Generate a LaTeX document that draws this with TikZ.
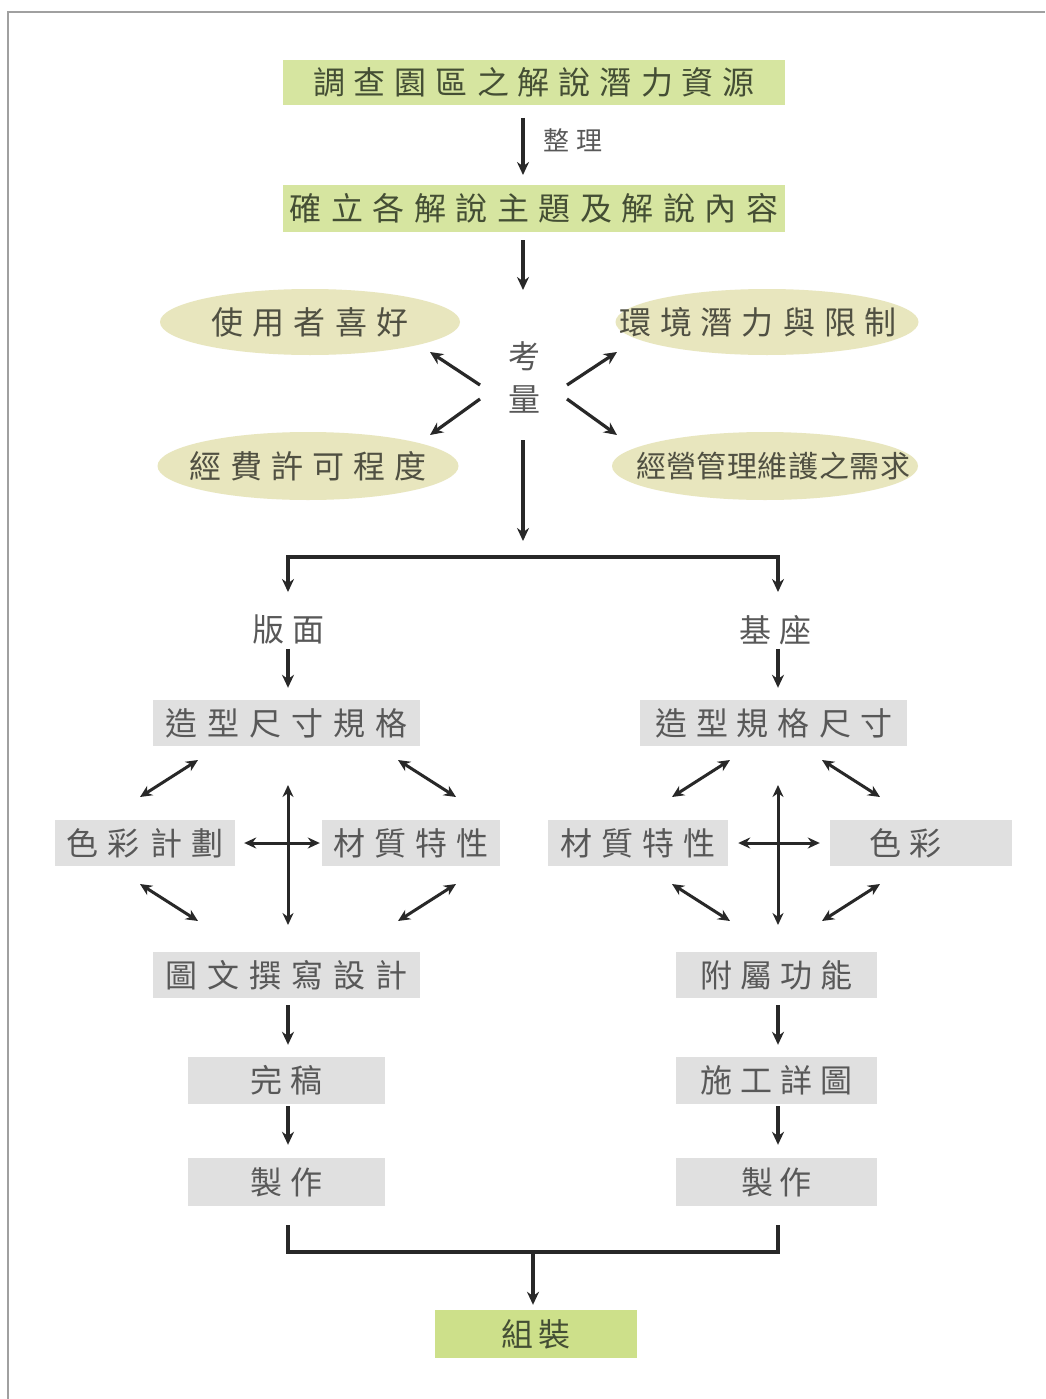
\documentclass[tikz,border=0pt]{standalone}
\usepackage{fontspec}
\usetikzlibrary{shapes.geometric,arrows.meta,calc}
\newfontfamily\cjk{Noto Sans CJK TC}

% spaced CJK text: \spaced{gap}{characters}
\makeatletter
\def\spaced#1#2{\def\sp@gap{#1}\sp@first#2\relax}
\def\sp@first#1{\ifx#1\relax\else#1\expandafter\sp@next\fi}
\def\sp@next#1{\ifx#1\relax\else\kern\sp@gap\relax#1\expandafter\sp@next\fi}
\makeatother

\definecolor{greenbox}{RGB}{214,229,160}
\definecolor{greenend}{RGB}{205,224,138}
\definecolor{beige}{RGB}{232,230,190}
\definecolor{graybox}{RGB}{224,224,224}
\definecolor{greentext}{RGB}{68,78,52}
\definecolor{beigetext}{RGB}{80,80,66}
\definecolor{graytext}{RGB}{88,88,88}
\definecolor{arrowcol}{RGB}{40,40,40}
\definecolor{framecol}{RGB}{160,160,160}

\tikzset{
  cjkfont/.style={font=\cjk\fontsize{#1}{#1}\selectfont},
  gbox/.style={rectangle,fill=greenbox,inner sep=0pt,text=greentext,cjkfont=32},
  ebox/.style={ellipse,fill=beige,inner sep=0pt},
  etext/.style={inner sep=0pt,text=beigetext,cjkfont=32},
  sbox/.style={rectangle,fill=graybox,inner sep=0pt,text=graytext,cjkfont=32},
  plain/.style={inner sep=0pt,text=graytext,cjkfont=32},
  arr/.style={draw=arrowcol,line width=3.2pt,-{Stealth[length=13pt,width=12pt]}},
  darr/.style={draw=arrowcol,line width=3pt,{Stealth[length=12pt,width=11pt]}-{Stealth[length=12pt,width=11pt]}},
  ln/.style={draw=arrowcol,line width=3.2pt},
}

\begin{document}
\begin{tikzpicture}[x=1pt,y=-1pt]
\useasboundingbox (0,0) rectangle (1045,1399);
\fill[white] (0,0) rectangle (1045,1399);
% frame
\draw[framecol,line width=2.6pt] (8,1399) -- (8,12) -- (1045,12);

% top chain
\node[gbox,minimum width=502,minimum height=45] (top1) at (534,82.5) {\spaced{9pt}{調查園區之解說潛力資源}};
\node[gbox,minimum width=502,minimum height=47] (top2) at (534,208.5) {\spaced{9.5pt}{確立各解說主題及解說內容}};
\node[plain,align=center,font=\cjk\fontsize{32}{43}\selectfont] (kao) at (524,377) {考\\量};

\coordinate (axisA) at (523,118);
\coordinate (axisB) at (523,175);
\coordinate (axisC) at (523,240);
\coordinate (axisD) at (523,290);
\coordinate (axisE) at (523,440);
\coordinate (axisF) at (523,541);

\draw[arr] (axisA) -- (axisB);
\node[plain,cjkfont=26] (zl) at (573,140) {\spaced{8pt}{整理}};
\draw[arr] (axisC) -- (axisD);
\draw[arr] (axisE) -- (axisF);

% considerations
\node[ebox,minimum width=300,minimum height=66] (e1) at (310,322) {};
\node[ebox,minimum width=303,minimum height=66] (e2) at (767,322) {};
\node[ebox,minimum width=301,minimum height=68] (e3) at (308,466) {};
\node[ebox,minimum width=306,minimum height=68] (e4) at (765,466) {};
\node[etext] (e1t) at (e1) {\spaced{9.5pt}{使用者喜好}};
\node[etext] (e2t) at ($(e2)+(-9,0)$) {\spaced{9pt}{環境潛力與限制}};
\node[etext] (e3t) at (e3) {\spaced{9pt}{經費許可程度}};
\node[etext,cjkfont=30] (e4t) at ($(e4)+(8,0)$) {\spaced{0.5pt}{經營管理維護之需求}};

\draw[arr] ($(kao)+(-44,8)$) -- ($(kao)+(-94,-25)$);
\draw[arr] ($(kao)+(-44,22)$) -- ($(kao)+(-94,58)$);
\draw[arr] ($(kao)+(43,8)$) -- ($(kao)+(93,-25)$);
\draw[arr] ($(kao)+(43,22)$) -- ($(kao)+(93,58)$);

% split into two branches
\coordinate (bl) at (288,557);
\coordinate (br) at (778,557);
\node[plain] (ban) at (288,630) {\spaced{8pt}{版面}};
\node[plain] (ji) at (775,630) {\spaced{8pt}{基座}};
\draw[ln,line cap=rect] (bl) -- (br);
\draw[arr,shorten >=23pt] (bl) -- (ban);
\draw[arr,shorten >=23pt] (br) -- (br |- ji.north);

% left branch
\node[sbox,minimum width=267,minimum height=46] (L1) at (286.5,723) {\spaced{10pt}{造型尺寸規格}};
\node[sbox,minimum width=180,minimum height=46] (L2) at (145,843) {\spaced{10pt}{色彩計劃}};
\node[sbox,minimum width=178,minimum height=46] (L3) at (411,843) {\spaced{9pt}{材質特性}};
\node[sbox,minimum width=267,minimum height=46] (L4) at (286.5,975) {\spaced{10pt}{圖文撰寫設計}};
\node[sbox,minimum width=197,minimum height=47] (L5) at (286.5,1080.5) {\spaced{8pt}{完稿}};
\node[sbox,minimum width=197,minimum height=48] (L6) at (286.5,1182) {\spaced{8pt}{製作}};

\draw[arr,shorten <=4pt,shorten >=12pt] (ban.south) -- (ban.south |- L1.north);

\coordinate (cL) at (288,843);
\draw[darr] ($(cL)+(-148,-46)$) -- ($(cL)+(-90,-83)$);
\draw[darr] ($(cL)+(110,-83)$) -- ($(cL)+(168,-46)$);
\draw[darr] ($(cL)+(-148,41)$) -- ($(cL)+(-90,78)$);
\draw[darr] ($(cL)+(110,78)$) -- ($(cL)+(168,41)$);
\draw[darr] ($(cL)+(0,-58)$) -- ($(cL)+(0,82)$);
\draw[darr,shorten <=9pt,shorten >=2pt] (L2.east) -- (L3.west);

\draw[arr,shorten <=7pt,shorten >=12pt] (cL |- L4.south) -- (cL |- L5.north);
\draw[arr,shorten <=2pt,shorten >=13pt] (cL |- L5.south) -- (cL |- L6.north);

% right branch
\node[sbox,minimum width=267,minimum height=46] (R1) at (773.5,723) {\spaced{9pt}{造型規格尺寸}};
\node[sbox,minimum width=180,minimum height=46] (R2) at (638,843) {\spaced{9pt}{材質特性}};
\node[sbox,minimum width=182,minimum height=46] (R3) at (921,843) {\spaced{8pt}{色彩}\hspace*{32pt}};
\node[sbox,minimum width=201,minimum height=46] (R4) at (776.5,975) {\spaced{8pt}{附屬功能}};
\node[sbox,minimum width=201,minimum height=47] (R5) at (776.5,1080.5) {\spaced{8pt}{施工詳圖}};
\node[sbox,minimum width=201,minimum height=48] (R6) at (776.5,1182) {\spaced{6pt}{製作}};

\draw[arr,shorten <=4pt,shorten >=12pt] (br |- ji.south) -- (br |- R1.north);

\coordinate (cR) at (778,843);
\draw[darr] ($(cR)+(-106,-46)$) -- ($(cR)+(-48,-83)$);
\draw[darr] ($(cR)+(44,-83)$) -- ($(cR)+(102,-46)$);
\draw[darr] ($(cR)+(-106,41)$) -- ($(cR)+(-48,78)$);
\draw[darr] ($(cR)+(44,78)$) -- ($(cR)+(102,41)$);
\draw[darr] ($(cR)+(0,-58)$) -- ($(cR)+(0,82)$);
\draw[darr,shorten <=10pt,shorten >=10pt] (R2.east) -- (R3.west);

\draw[arr,shorten <=7pt,shorten >=12pt] (cR |- R4.south) -- (cR |- R5.north);
\draw[arr,shorten <=2pt,shorten >=13pt] (cR |- R5.south) -- (cR |- R6.north);

% merge
\node[gbox,fill=greenend,minimum width=202,minimum height=48] (fin) at (536,1334) {\spaced{5pt}{組裝}};
\coordinate (mL) at (288,1252);
\coordinate (mR) at (778,1252);
\coordinate (mC) at (533,1252);
\draw[ln] (cL |- L6.south) ++(0,19) -- (mL) -- (mR) -- ($(cR |- R6.south)+(0,19)$);
\draw[arr,shorten >=5pt] (mC) -- (mC |- fin.north);
\end{tikzpicture}
\end{document}
